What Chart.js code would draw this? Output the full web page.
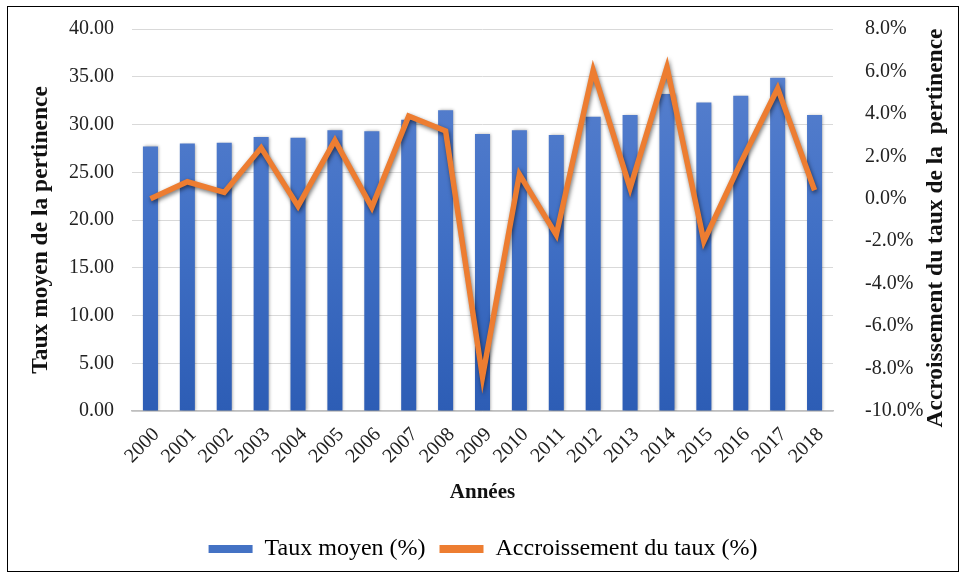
<!DOCTYPE html>
<html>
<head>
<meta charset="utf-8">
<script src="https://cdn.jsdelivr.net/npm/chart.js@4"></script>
<style>
  body { margin: 0; background: #fff; }
  #box { position: absolute; left: 7px; top: 6px; width: 950px; height: 564px; border: 1px solid #000; overflow: hidden; }
  #tauxChart { position: absolute; left: 0; top: -14px; }
</style>
</head>
<body>
<div id="box"><canvas id="tauxChart" width="950" height="578"></canvas></div>
<script>
var annees = ['2000', '2001', '2002', '2003', '2004', '2005', '2006', '2007', '2008', '2009',
              '2010', '2011', '2012', '2013', '2014', '2015', '2016', '2017', '2018'];
var tauxMoyen = [27.7, 28.0, 28.1, 28.7, 28.6, 29.4, 29.3, 30.5, 31.5, 29.0,
                 29.4, 28.9, 30.8, 31.0, 33.2, 32.3, 33.0, 34.9, 31.0];
var accroissement = [0.0, 0.8, 0.3, 2.4, -0.35, 2.75, -0.4, 3.9, 3.2, -8.4,
                     1.15, -1.7, 6.05, 0.5, 6.2, -2.0, 1.7, 5.2, 0.4];
var serif = "'Liberation Serif', 'Times New Roman', serif";
var decal = 14; // le canevas dépasse en haut du cadre

// ombre portée sous les barres et la courbe
var ombre = {
  id: 'ombre',
  beforeDatasetDraw: function (chart, args) {
    var c = chart.ctx;
    c.save();
    if (args.meta.type === 'line') {
      c.shadowColor = 'rgba(0,0,0,0.55)';
      c.shadowBlur = 4;
      c.shadowOffsetX = 1;
      c.shadowOffsetY = 2;
    } else {
      c.shadowColor = 'rgba(0,0,0,0.35)';
      c.shadowBlur = 3;
      c.shadowOffsetX = 1;
      c.shadowOffsetY = 0;
    }
  },
  afterDatasetDraw: function (chart) {
    chart.ctx.restore();
  }
};

// titres des axes dessinés à la main (le titre de droite se lit de bas en haut)
var titres = {
  id: 'titres',
  afterDraw: function (chart) {
    var c = chart.ctx;
    var a = chart.chartArea;
    c.save();
    c.fillStyle = '#111';
    c.textAlign = 'center';
    c.textBaseline = 'middle';
    c.font = 'bold 23.5px ' + serif;
    c.save();
    c.translate(33, 223 + decal);
    c.rotate(-Math.PI / 2);
    c.fillText('Taux moyen de la pertinence', 0, 0);
    c.restore();
    c.save();
    c.translate(928, 221 + decal);
    c.rotate(-Math.PI / 2);
    c.fillText('Accroissement du taux de la  pertinence', 0, 0);
    c.restore();
    c.font = 'bold 21px ' + serif;
    c.fillText('Années', (a.left + a.right) / 2, 486 + decal);
    c.restore();
  }
};

var ctx = document.getElementById('tauxChart').getContext('2d');
var tauxChart = new Chart(ctx, {
  type: 'bar',
  data: {
    labels: annees,
    datasets: [{
      type: 'line',
      label: 'Accroissement du taux (%)',
      data: accroissement,
      yAxisID: 'y2',
      borderColor: '#ed7d31',
      backgroundColor: '#ed7d31',
      borderWidth: 5.5,
      borderJoinStyle: 'miter',
      pointRadius: 0,
      tension: 0,
      order: 0
    }, {
      label: 'Taux moyen (%)',
      data: tauxMoyen,
      yAxisID: 'y',
      backgroundColor: function (context) {
        var a = context.chart.chartArea;
        if (!a) return '#4472c4';
        var g = context.chart.ctx.createLinearGradient(0, a.top, 0, a.bottom);
        g.addColorStop(0, '#5d84d0');
        g.addColorStop(0.5, '#4271c6');
        g.addColorStop(1, '#2d5db5');
        return g;
      },
      barPercentage: 0.6,
      categoryPercentage: 0.68,
      order: 1
    }]
  },
  options: {
    responsive: false,
    animation: false,
    layout: { padding: { top: 10, left: 0, right: 0, bottom: 0 } },
    plugins: {
      tooltip: { enabled: false },
      legend: {
        position: 'bottom',
        labels: {
          font: { family: serif, size: 24 },
          color: '#222',
          boxWidth: 44,
          boxHeight: 8,
          padding: 14,
          generateLabels: function () {
            return [
              { text: 'Taux moyen (%)', fillStyle: '#4472c4', strokeStyle: '#4472c4', lineWidth: 0, datasetIndex: 1 },
              { text: 'Accroissement du taux (%)', fillStyle: '#ed7d31', strokeStyle: '#ed7d31', lineWidth: 0, datasetIndex: 0 }
            ];
          }
        }
      }
    },
    scales: {
      x: {
        grid: { display: false },
        border: { color: '#bfbfbf', width: 1.5 },
        ticks: {
          font: { family: serif, size: 20 },
          color: '#222',
          autoSkip: false,
          minRotation: 45,
          maxRotation: 45,
          labelOffset: 6,
          padding: 4
        },
        afterFit: function (scale) {
          var leg = scale.chart.legend ? scale.chart.legend.height : 40;
          scale.height = 578 - 418 - leg;
        }
      },
      y: {
        position: 'left',
        min: 0,
        max: 40,
        grid: { color: '#d9d9d9', drawTicks: false },
        border: { display: false },
        ticks: {
          stepSize: 5,
          padding: 18,
          font: { family: serif, size: 20 },
          color: '#222',
          callback: function (v) { return v.toFixed(2); }
        },
        afterFit: function (scale) { scale.width = 124; }
      },
      y2: {
        position: 'right',
        min: -10,
        max: 8,
        grid: { display: false },
        border: { display: false },
        ticks: {
          stepSize: 2,
          padding: 24,
          font: { family: serif, size: 20 },
          color: '#222',
          callback: function (v) { return v.toFixed(1) + '%'; }
        },
        afterFit: function (scale) { scale.width = 125; }
      }
    }
  },
  plugins: [ombre, titres]
});
</script>
</body>
</html>
